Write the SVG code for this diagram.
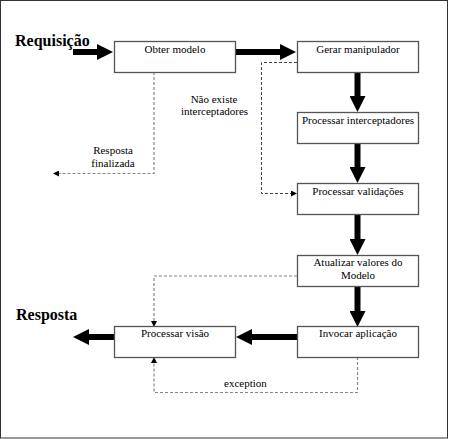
<svg xmlns="http://www.w3.org/2000/svg" width="450" height="439" viewBox="0 0 450 439">
<style>
.box{fill:#fff;stroke:#555;stroke-width:1.3}
.t{font-family:"Liberation Serif","Times New Roman",serif;font-size:11px;fill:#000;text-anchor:middle}
.big{font-family:"Liberation Serif","Times New Roman",serif;font-size:16px;font-weight:bold;fill:#000}
.thick{stroke:#000;stroke-width:6;fill:none;marker-end:url(#big)}
.dash{stroke:#888;stroke-width:1.2;fill:none;stroke-dasharray:3 2;marker-end:url(#small)}
.dash2{stroke:#444;stroke-width:1;fill:none;stroke-dasharray:3 2;marker-end:url(#small2)}
</style>
<defs>
<marker id="big" markerUnits="userSpaceOnUse" markerWidth="16" markerHeight="16" refX="0" refY="8" orient="auto"><path d="M0,0 L16,8 L0,16 Z" fill="#000"/></marker>
<marker id="small" markerUnits="userSpaceOnUse" markerWidth="6" markerHeight="6" refX="0" refY="3" orient="auto"><path d="M0,0 L6,3 L0,6 Z" fill="#000"/></marker>
<marker id="small2" markerUnits="userSpaceOnUse" markerWidth="6" markerHeight="6" refX="0" refY="3" orient="auto"><path d="M0,0 L6,3 L0,6 Z" fill="#000"/></marker>
</defs>
<rect x="0.5" y="0.5" width="447" height="437.5" fill="#fff" stroke="#333" stroke-width="1"/>
<text class="big" x="15" y="46">Requisição</text>
<text class="big" x="16" y="320">Resposta</text>
<g id="connectors">
<path class="thick" d="M73,52 H97"/>
<path class="thick" d="M235,52 H280"/>
<path class="thick" d="M357.5,72 V96"/>
<path class="thick" d="M357.5,143 V167"/>
<path class="thick" d="M357.5,214 V239"/>
<path class="thick" d="M357.5,286 V311"/>
<path class="thick" d="M297,337 H252"/>
<path class="thick" d="M114,337 H89"/>
<path class="dash" d="M154,72 V173.5 H59"/>
<path class="dash2" d="M297,62.5 H261.5 V193.5 H291"/>
<path class="dash" d="M297,276 H154 V321"/>
<path class="dash" d="M357.5,357 V392.5 H154 V363"/>
<text class="t" x="214" y="102.5">Não existe</text>
<text class="t" x="214.5" y="115">interceptadores</text>
<text class="t" x="113" y="154">Resposta</text>
<text class="t" x="113" y="166.5">finalizada</text>
<text class="t" x="245.5" y="386.5">exception</text>
</g>
<g id="obter"><rect class="box" x="114.5" y="41.5" width="121" height="31"/><text class="t" x="175" y="52.5">Obter modelo</text></g>
<g id="gerar"><rect class="box" x="297.5" y="41.5" width="121" height="31"/><text class="t" x="358" y="52.5">Gerar manipulador</text></g>
<g id="interceptadores"><rect class="box" x="297.5" y="112.5" width="121" height="31"/><text class="t" x="358" y="123.5">Processar interceptadores</text></g>
<g id="validacoes"><rect class="box" x="297.5" y="183.5" width="121" height="31"/><text class="t" x="358" y="194.5">Processar validações</text></g>
<g id="atualizar"><rect class="box" x="297.5" y="255.5" width="121" height="31"/><text class="t" x="358" y="265.5">Atualizar valores do</text><text class="t" x="358" y="278.5">Modelo</text></g>
<g id="invocar"><rect class="box" x="297.5" y="326.5" width="121" height="31"/><text class="t" x="358" y="337">Invocar aplicação</text></g>
<g id="visao"><rect class="box" x="114.5" y="326.5" width="121" height="31"/><text class="t" x="175" y="337">Processar visão</text></g>
</svg>
